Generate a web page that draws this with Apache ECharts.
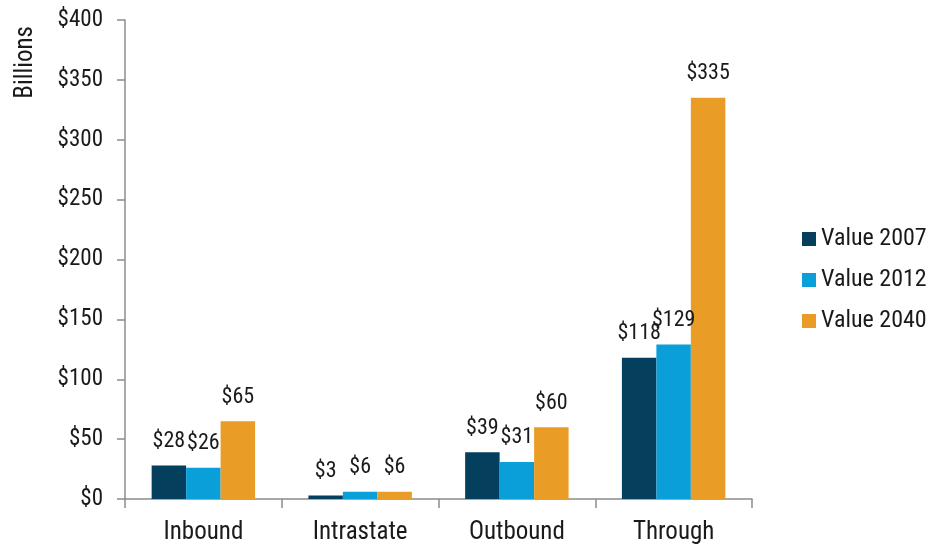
<!DOCTYPE html>
<html><head><meta charset="utf-8">
<script src="https://cdn.jsdelivr.net/npm/echarts@6/dist/echarts.min.js"></script>
<style>html,body{margin:0;padding:0;background:#fff}#c{width:930px;height:549px}</style>
</head><body><div id="c"></div>
<script>
const categories = ['Inbound', 'Intrastate', 'Outbound', 'Through'];
const seriesNames = ['Value 2007', 'Value 2012', 'Value 2040'];
const value2007 = [28, 3, 39, 118];
const value2012 = [26, 6, 31, 129];
const value2040 = [65, 6, 60, 335];
const colors = ['#053F5E', '#0A9FD9', '#E99D26'];
const FONT = "'Roboto Condensed', 'Liberation Sans', Arial, sans-serif";

const chart = echarts.init(document.getElementById('c'), null, {renderer: 'canvas'});
const mk = (name, data, color) => ({
  name, type: 'bar', data, barGap: '0%', barCategoryGap: '34%',
  itemStyle: {color},
  label: {show: true, position: 'top', distance: 13, formatter: p => '$' + p.value,
    color: '#1a1a1a', fontFamily: FONT, fontSize: 22}
});
chart.setOption({
  animation: false,
  color: colors,
  grid: {left: 125, right: 178, top: 20, bottom: 50},
  legend: {orient: 'vertical', left: 797, top: 222, itemWidth: 14, itemHeight: 14, itemGap: 17,
    icon: 'rect', data: seriesNames,
    textStyle: {fontFamily: FONT, fontSize: 24, color: '#1a1a1a'}},
  graphic: [{type: 'text', left: 13, top: 26, rotation: Math.PI/2,
    style: {text: 'Billions', fontFamily: FONT, fontSize: 25, fill: '#1a1a1a'}}],
  xAxis: {type: 'category', data: categories,
    axisLine: {lineStyle: {color: '#8c8c8c', width: 1.5}},
    axisTick: {show: true, length: 9, lineStyle: {color: '#8c8c8c', width: 1.5}},
    axisLabel: {fontFamily: FONT, fontSize: 25, color: '#1a1a1a', margin: 21}},
  yAxis: {type: 'value', min: 0, max: 400, interval: 50,
    splitLine: {show: false},
    axisLine: {show: true, lineStyle: {color: '#8c8c8c', width: 1.5}},
    axisTick: {show: true, length: 8, lineStyle: {color: '#8c8c8c', width: 1.5}},
    axisLabel: {formatter: v => '$' + v, fontFamily: FONT, fontSize: 23, color: '#1a1a1a', margin: 22}},
  series: [mk(seriesNames[0], value2007, colors[0]), mk(seriesNames[1], value2012, colors[1]), mk(seriesNames[2], value2040, colors[2])]
});
</script></body></html>
